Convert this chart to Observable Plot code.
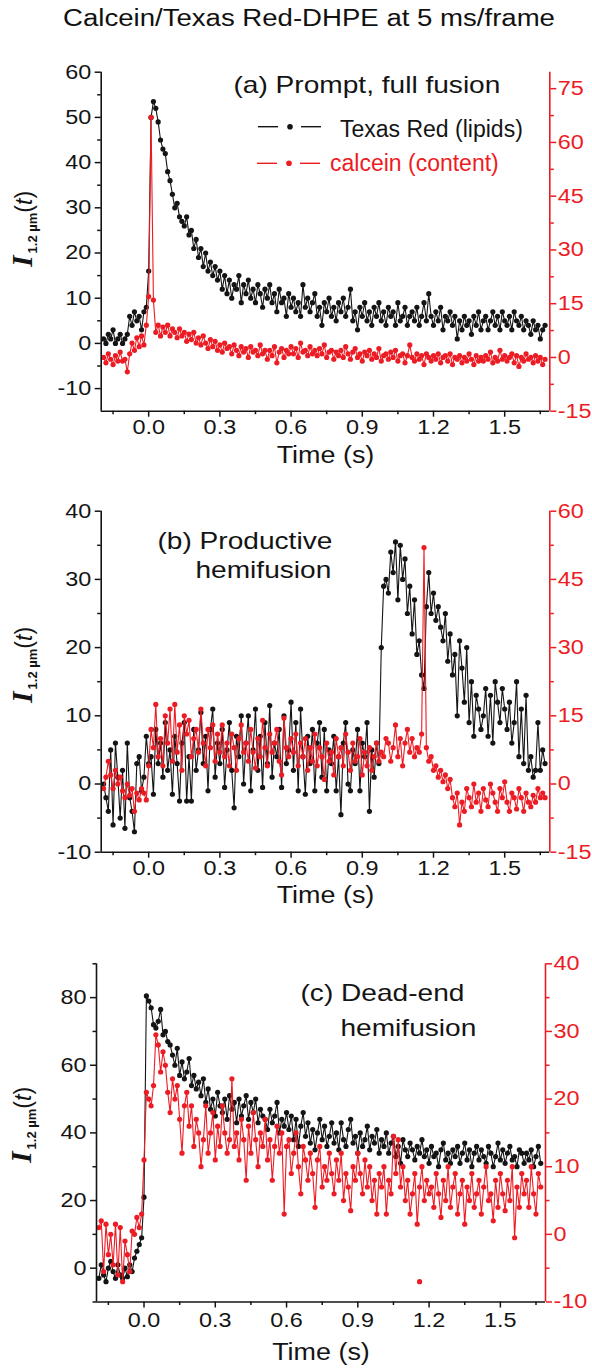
<!DOCTYPE html>
<html><head><meta charset="utf-8">
<script src="https://cdn.jsdelivr.net/npm/d3@7"></script>
<script src="https://cdn.jsdelivr.net/npm/@observablehq/plot@0.6"></script>
<style>
html,body{margin:0;padding:0;background:#fff;}
#wrap{position:relative;width:592px;height:1368px;overflow:hidden;font-family:"Liberation Sans",Arial,sans-serif;}
#title{position:absolute;left:63px;top:7px;font-size:23px;line-height:23px;white-space:nowrap;transform-origin:0 0;color:#111;}
</style></head>
<body><div id="wrap"><div id="title">Calcein/Texas Red-DHPE at 5 ms/frame</div></div>
<script>
// ---- sampling of the traces (every second 5 ms frame) ----
const frameStart = -0.19;   // s
const frameStep = 0.01;     // s
const timeDomain = [-0.2, 1.69];
const timeMajor = [0, 0.3, 0.6, 0.9, 1.2, 1.5];
const timeMinor = [-0.15, 0.15, 0.45, 0.75, 1.05, 1.35, 1.65];

// ---- (a) Prompt, full fusion ----
const texasRedA = [
 1, 0, 2, 1, 3, 0, 1, 2, 0, 1,
 2, 6, 4, 7, 5, 6, 3, 7, 8, 16,
 50, 53.5, 52, 49, 45, 43, 42, 38, 36, 33,
 30, 31, 28, 27, 26, 28, 24, 25, 21, 23,
 19, 21, 17, 20, 16, 18, 15, 17, 14, 16,
 12, 15, 11, 14, 10, 13, 12, 15, 9, 13,
 11, 14, 10, 12, 9, 13, 11, 8, 12, 10,
 13, 9, 11, 7, 12, 9, 10, 6, 11, 8,
 10, 7, 9, 6, 13, 8, 10, 7, 9, 11,
 6, 8, 4, 9, 7, 10, 6, 8, 5, 9,
 7, 10, 6, 8, 12, 5, 7, 3, 8, 6,
 9, 5, 7, 4, 8, 6, 9, 5, 7, 4,
 8, 6, 7, 4, 9, 5, 6, 8, 4, 6,
 7, 5, 8, 4, 6, 9, 5, 11, 6, 4,
 7, 5, 8, 3, 6, 5, 7, 4, 6, 1,
 5, 3, 6, 4, 5, 2, 6, 4, 7, 3,
 5, 6, 3, 5, 7, 4, 6, 3, 7, 5,
 4, 6, 3, 7, 5, 4, 6, 3, 5, 4,
 2, 5, 3, 4, 1, 3, 4];
const calceinA = [
 0, -1.5, 1, -0.5, -2, 0.5, -1, 1.5, -1, -0.5,
 -4, 1, 4, 2, 5.5, 3, 6, 3.5, 9, 17,
 67, 16, 7, 9, 6, 8.5, 7, 9, 6, 8,
 7, 5.5, 8, 6, 7, 4.5, 6.5, 5, 7, 4,
 5.5, 3.5, 6, 4, 2.5, 5, 3, 4.5, 2, 3.5,
 1.5, 4, 2.5, 3, 1, 3.5, 2, 0.5, 3, 1.5,
 2.5, 0, 3, 1.5, 2, 0.5, 3.5, 1, 2, -0.5,
 2, 0.5, 3, -1.5, 1.5, 2.5, 0, 2, 1, 3,
 1, 2.5, 0, 4, 1.5, 2, 0.5, 3, 1, 2,
 0.5, 2.5, 1, 3.5, 0, 1.5, 2, -0.5, 1.5, 0.5,
 2, 0, 3, 1, -0.5, 1.5, 2.5, 0, 1, -1,
 1.5, 0.5, 2, -0.5, 1, 0, 2.5, -1, 0.5, 1,
 -0.5, 1.5, 0, 2, -1, 0.5, 1, -1.5, 0.5, 3.5,
 0, -1, 1, -0.5, 0.5, -2, 1, 0, -1, 0.5,
 -0.5, 1, -1.5, 0, 0.5, -1, 1, -2, 0, -0.5,
 0.5, -1.5, 0, -1, 1, -0.5, -2, 0.5, -1, 0,
 -1, 0.5, -0.5, 1.5, -1.5, 0, -1, 2, -0.5, 0.5,
 -1, 0, 1, -1.5, 0.5, -2.5, 0, -1, 1, -0.5,
 0, -1.5, 0.5, -1, 0, -2, -0.5];

// ---- (b) Productive hemifusion ----
const texasRedB = [
 0, -2, -4, 5, -6, 6, 1, -5, 2, -6.5,
 6, -2, -4, -7, 3, 4, -1, 1, 7, 3,
 4, -1.5, 8, 3, 6, 1, 9, 2, 5, -1.5,
 7, 3, -2.5, 6, 9, -2.5, 4, -2.5, 8, 2,
 5, 10.5, 3, 7, -1, 8, 11, 1, 6, 3,
 8, -0.5, 5, 9, 2, -3.5, 7, 4, 10, 0,
 6, 10, -1, 5, 11, 2, 7, -0.5, 9, 3,
 11.5, 1, 6, 4, 8, -0.5, 10, 3, 5, 12,
 2, 9, -1, 11, 4, -1.5, 7, 3, 8, -1,
 6, 9, 1, 8, -1, 5, 3, 7, -1, 4,
 -4.5, 6, 9, 0, -1, 5, 3, 8, -1, 6,
 4, 9, -4, 5, 1, 6, 3, 20, 29, 30,
 28, 34, 31, 35.5, 27, 35, 30, 33, 25, 29,
 22, 27, 19, 21, 16, 14, 26, 31, 25, 28,
 24, 26, 23, 21, 25, 18, 22, 16, 19, 10,
 21, 17, 12, 20, 9, 15, 7, 13, 11, 8,
 10, 14, 7, 13, 6, 15, 12, 9, 14, 11,
 8, 12, 6, 9, 15, 4, 11, 3, 13, 2,
 4, 1, 2, 9, 2, 5, 3];
const calceinB = [
 -1, 1.5, 5, 2, -1, 3, 0, 1.5, -1.5, -3,
 0, -2.5, -1, -6, -2, -3.5, -1, -2, -3.5, 4,
 12, 8, 17.5, 6, 10, 4, 15, 9, 16.5, 5,
 17.5, 7, 13, 3, 15, 11, 14, 6, 10, 12,
 7, 16.5, 9, 4, 12, 8, 13, 5, 11, 7,
 13, 6, 9, 4, 11, 8, 3, 10, 13, 7,
 9, 5, 12, 7, 3.5, 10, 6, 14, 8, 4,
 11, 7, 9, 12, 5, 2, 14.5, 8, 6, 10,
 7, 11, 4, 9, 6, 10, 3, 8, 5, 11,
 4, 8, 6, 1, 9, 5, 7, 2, 10, 6,
 8, 4, 11, 7, 3, 9, 5, 6, 10, 2,
 7, 4, 8, 3, 6, 9, 5, 7, 6, 10,
 9, 5, 8, 13, 6, 10, 4, 9, 12, 7,
 10, 6, 8, 7, 11, 52, 8, 5, 6, 3,
 4, 1.5, 3, 0.5, 2, -1, 1, -3, -5, -2,
 -9, -4, -6, -1, -3, -5, 0, -4, -2, -6,
 -1, -3.5, -5, 0, -2, -4, -6, -1, -3, 0.5,
 -4, -6, -2, -3, -5.5, -1, -3, -6, -2, -4,
 -5, -2.5, -4, -1, -3, -2, -3];

// ---- (c) Dead-end hemifusion ----
const texasRedC = [
 -3, 1, -2, -4, 0, 2, -1, -3, 1, -2,
 -3, 0, -2.5, 1, -1, 3, 5, 7, 9, 21,
 80.5, 79, 77, 72, 71, 73, 76.5, 69, 70, 67,
 66, 63, 60, 65, 57, 61, 56, 58, 62, 54,
 57, 53, 55, 51, 56, 49, 53, 47, 50, 45,
 52, 48, 46, 50, 44, 51, 47, 49, 43, 50,
 45, 48, 51, 44, 49, 46, 50, 43, 47, 45,
 44, 41, 47, 43, 45, 49, 40, 44, 42, 46,
 41, 45, 38, 44, 36, 42, 46, 39, 43, 37,
 41, 35, 40, 44, 38, 42, 36, 39, 43, 37,
 40, 35, 43, 38, 36, 41, 44, 37, 39, 34,
 40, 36, 38, 42, 35, 39, 37, 41, 34, 38,
 36, 40, 34, 37, 39, 33, 36, 31, 38, 35,
 33, 37, 35, 32, 36, 34, 38, 33, 35, 31,
 36, 33, 34, 30, 35, 37, 32, 34, 31, 35,
 33, 36, 31, 34, 37, 32, 35, 30, 34, 36,
 32, 35, 33, 31, 36, 34, 30, 33, 37, 32,
 35, 31, 34, 36, 32, 33, 30, 35, 34, 31,
 34, 32, 35, 30, 33, 36, 31];
const calceinC = [
 1, 2, -5.5, 1.5, -3, 0, -4.5, 1.5, -6, 1,
 -7, -1, -3, -5.5, 0.5, 0, 2.5, 1, 3, 11,
 21, 20, 19, 22, 29.5, 28, 24, 27, 25, 21,
 18, 23, 20, 22, 17, 12, 19, 21, 16, 19,
 13, 17, 15, 10, 14, 19, 12, 15, 18, 11,
 16, 13, 19, 15, 12, 14, 23, 13, 15, 11,
 17, 14, 8, 16, 12, 18, 14, 10, 15, 13,
 17, 11, 14, 8, 13, 16, 12, 15, 3, 13,
 14, 9, 12, 15, 10, 6, 13, 11, 8, 12,
 9, 4, 11, 13, 7, 10, 8, 12, 9, 6,
 11, 8, 12, 5, 9, 7, 3.5, 10, 8, 12,
 9, 6, 11, 7, 10, 5, 8, 3, 9, 7,
 10, 3, 8, 6, 14.5, 9, 14, 7, 10, 5,
 8, 3, 6, 9, 1.5, 7, 10, 5, 8, 6,
 7, 4, 9, 6, 2.5, 8, 5, 10, 4, 7,
 9, 3, 6, 8, 1.5, 7, 5, 9, 4, 6,
 8, 3, 7, 10, 5, 6, 2, 8, 4, 9,
 6, 3.5, 8, 5, 10, -0.5, 7, 4, 9, 6,
 8, 4, 10, 6, 3, 9, 7];
const calceinCIsolatedT = [1.16];
const calceinCIsolatedV = [-7];

// ---- axis ticks ----
const leftMajorA = [-10, 0, 10, 20, 30, 40, 50, 60];
const leftMinorA = [-5, 5, 15, 25, 35, 45, 55];
const rightMajorA = [-15, 0, 15, 30, 45, 60, 75];
const rightMinorA = [-7.5, 7.5, 22.5, 37.5, 52.5, 67.5];
const leftMajorB = [-10, 0, 10, 20, 30, 40];
const leftMinorB = [-5, 5, 15, 25, 35];
const rightMajorB = [-15, 0, 15, 30, 45, 60];
const rightMinorB = [-7.5, 7.5, 22.5, 37.5, 52.5];
const leftMajorC = [0, 20, 40, 60, 80];
const leftMinorC = [-10, 10, 30, 50, 70, 90];
const rightMajorC = [-10, 0, 10, 20, 30, 40];
const rightMinorC = [-5, 5, 15, 25, 35];

const legendLabels = ["Texas Red (lipids)", "calcein (content)"];

const BLACK = "#141414", RED = "#ec1c24";
const FONT = "'Liberation Sans', Arial, sans-serif";
const STRETCH = 1.17;

function makePanel(p) {
  const [l0, l1] = p.left, [r0, r1] = p.right;
  const toLeft = v => l0 + (v - r0) * (l1 - l0) / (r1 - r0);
  const toRight = v => r0 + (v - l0) * (r1 - r0) / (l1 - l0);
  const timeOf = i => +(frameStart + i * frameStep).toFixed(3);
  const lip = p.lipid.map((v, i) => ({t: timeOf(i), v}));
  const con = p.content.map((v, i) => ({t: timeOf(i), v: toLeft(v)}));
  const iso = (p.isoT || []).map((t, i) => ({t, v: toLeft(p.isoV[i])}));
  const fmtR = d => String(Math.round(toRight(d) * 10) / 10);
  const marks = [
    Plot.line(lip, {x: "t", y: "v", stroke: BLACK, strokeWidth: 1.1}),
    Plot.dot(lip, {x: "t", y: "v", r: 2.6, fill: BLACK, stroke: "none"}),
    Plot.line(con, {x: "t", y: "v", stroke: RED, strokeWidth: 1.1}),
    Plot.dot(con, {x: "t", y: "v", r: 2.6, fill: RED, stroke: "none"}),
    Plot.dot(iso, {x: "t", y: "v", r: 2.6, fill: RED, stroke: "none"}),
    Plot.ruleX([timeDomain[0]], {stroke: BLACK, strokeWidth: 1.6}),
    Plot.ruleY([l0], {stroke: BLACK, strokeWidth: 1.6}),
    Plot.ruleX([timeDomain[1]], {stroke: RED, strokeWidth: 1.6}),
    Plot.axisX(timeMajor, {tickSize: 6, tickPadding: p.xPad, strokeWidth: 1.5, fontSize: 20, tickFormat: d => d.toFixed(1), label: null, color: BLACK}),
    Plot.axisX(timeMinor, {tickSize: 3.5, strokeWidth: 1.5, tickFormat: () => "", label: null, color: BLACK}),
    Plot.axisY(p.leftMajor, {anchor: "left", tickSize: 6, tickPadding: 4, strokeWidth: 1.5, fontSize: 20, tickFormat: d => String(d), label: null, color: BLACK}),
    Plot.axisY(p.leftMinor, {anchor: "left", tickSize: 3.5, strokeWidth: 1.5, tickFormat: () => "", label: null, color: BLACK}),
    Plot.axisY(p.rightMajor.map(toLeft), {anchor: "right", tickSize: 6, tickPadding: 2, strokeWidth: 1.5, fontSize: 20, tickFormat: fmtR, label: null, color: RED}),
    Plot.axisY(p.rightMinor.map(toLeft), {anchor: "right", tickSize: 3.5, strokeWidth: 1.5, tickFormat: () => "", label: null, color: RED}),
    Plot.text(["Time (s)"], {text: d => d, frameAnchor: "bottom", dy: p.timeDy, lineAnchor: "bottom", fontSize: 23, fill: BLACK})
  ];
  for (const a of p.notes) {
    marks.push(Plot.text([a.text], {text: d => d, frameAnchor: "top-left", dx: a.dx, dy: a.dy, textAnchor: "start", lineAnchor: "bottom", fontSize: 24, fill: a.color || BLACK}));
  }
  const svg = Plot.plot({
    width: 592, height: p.height,
    marginLeft: p.ml, marginRight: p.mr, marginTop: p.mt, marginBottom: p.mb,
    x: {domain: timeDomain, axis: null},
    y: {domain: p.left, axis: null},
    style: {background: "transparent", color: BLACK, fontFamily: FONT, overflow: "visible"},
    marks
  });
  svg.style.position = "absolute";
  svg.style.left = "0px";
  svg.style.top = p.top + "px";
  document.getElementById("wrap").appendChild(svg);

  // y-axis title  I_{1.2 µm}(t)
  const lab = d3.select(svg).append("text").attr("class", "nostretch")
    .attr("transform", `translate(${p.labX},${p.labY}) rotate(-90)`)
    .attr("text-anchor", "middle").attr("fill", BLACK);
  lab.append("tspan").attr("font-family", "'Liberation Serif', serif").attr("font-weight", "bold")
    .attr("font-style", "italic").attr("font-size", 30).text("I");
  lab.append("tspan").attr("font-family", FONT).attr("font-weight", "bold").attr("font-size", 13)
    .attr("dy", 5).attr("dx", 2).text("1.2 µm");
  lab.append("tspan").attr("font-family", FONT).attr("font-size", 23).attr("dy", -5).text("(");
  lab.append("tspan").attr("font-family", FONT).attr("font-style", "italic").attr("font-size", 23).text("t");
  lab.append("tspan").attr("font-family", FONT).attr("font-size", 23).text(")");

  if (p.legend) {
    const g = d3.select(svg).append("g");
    p.legend.forEach((L, i) => {
      const col = i === 0 ? BLACK : RED;
      g.append("line").attr("x1", L.x0).attr("x2", L.x0 + 20).attr("y1", L.y).attr("y2", L.y).attr("stroke", col).attr("stroke-width", 1.4);
      g.append("line").attr("x1", L.x0 + 43).attr("x2", L.x0 + 63).attr("y1", L.y).attr("y2", L.y).attr("stroke", col).attr("stroke-width", 1.4);
      g.append("circle").attr("cx", L.x0 + 32).attr("cy", L.y).attr("r", 2.8).attr("fill", col);
      g.append("text").attr("class", "nostretch").attr("x", L.tx).attr("y", L.ty).attr("font-size", 23).attr("fill", col)
        .attr("text-anchor", "start").attr("font-family", FONT).text(legendLabels[i]);
    });
  }
  // horizontal stretch of the lettering, as in the reference
  svg.querySelectorAll("text").forEach(el => {
    if (el.classList.contains("nostretch")) return;
    const L = el.getComputedTextLength();
    if (L > 0) {
      el.setAttribute("textLength", (L * STRETCH).toFixed(2));
      el.setAttribute("lengthAdjust", "spacingAndGlyphs");
    }
  });
}

makePanel({
  top: 40, height: 430, ml: 100.7, mr: 42.7, mt: 31.7, mb: 59.3,
  left: [-15, 60], right: [-15, 79.6],
  lipid: texasRedA, content: calceinA,
  leftMajor: leftMajorA, leftMinor: leftMinorA, rightMajor: rightMajorA, rightMinor: rightMinorA,
  xPad: 3, timeDy: 52, labX: 32, labY: 189,
  notes: [{text: "(a) Prompt, full fusion", dx: 132.3, dy: 20.3}],
  legend: [{x0: 258, y: 86.7, tx: 340, ty: 97}, {x0: 257, y: 123.3, tx: 330, ty: 131}]
});
makePanel({
  top: 480, height: 430, ml: 100.7, mr: 42.7, mt: 30.7, mb: 58.3,
  left: [-10, 40], right: [-15, 60],
  lipid: texasRedB, content: calceinB,
  leftMajor: leftMajorB, leftMinor: leftMinorB, rightMajor: rightMajorB, rightMinor: rightMinorB,
  xPad: 3, timeDy: 51, labX: 32, labY: 185,
  notes: [{text: "(b) Productive", dx: 56.3, dy: 37.3}, {text: "hemifusion", dx: 94.3, dy: 66.3}]
});
makePanel({
  top: 930, height: 438, ml: 96, mr: 47, mt: 33.3, mb: 66.5,
  left: [-10, 90], right: [-10, 40],
  lipid: texasRedC, content: calceinC, isoT: calceinCIsolatedT, isoV: calceinCIsolatedV,
  leftMajor: leftMajorC, leftMinor: leftMinorC, rightMajor: rightMajorC, rightMinor: rightMinorC,
  xPad: 5, timeDy: 58, labX: 31, labY: 195,
  notes: [{text: "(c) Dead-end", dx: 204, dy: 36.7}, {text: "hemifusion", dx: 244, dy: 71.7}]
});

// title: stretched to the reference width
const title = document.getElementById("title");
const tw = title.getBoundingClientRect().width;
title.style.transform = `scaleX(${(492 / tw).toFixed(3)})`;
</script>
</body></html>
